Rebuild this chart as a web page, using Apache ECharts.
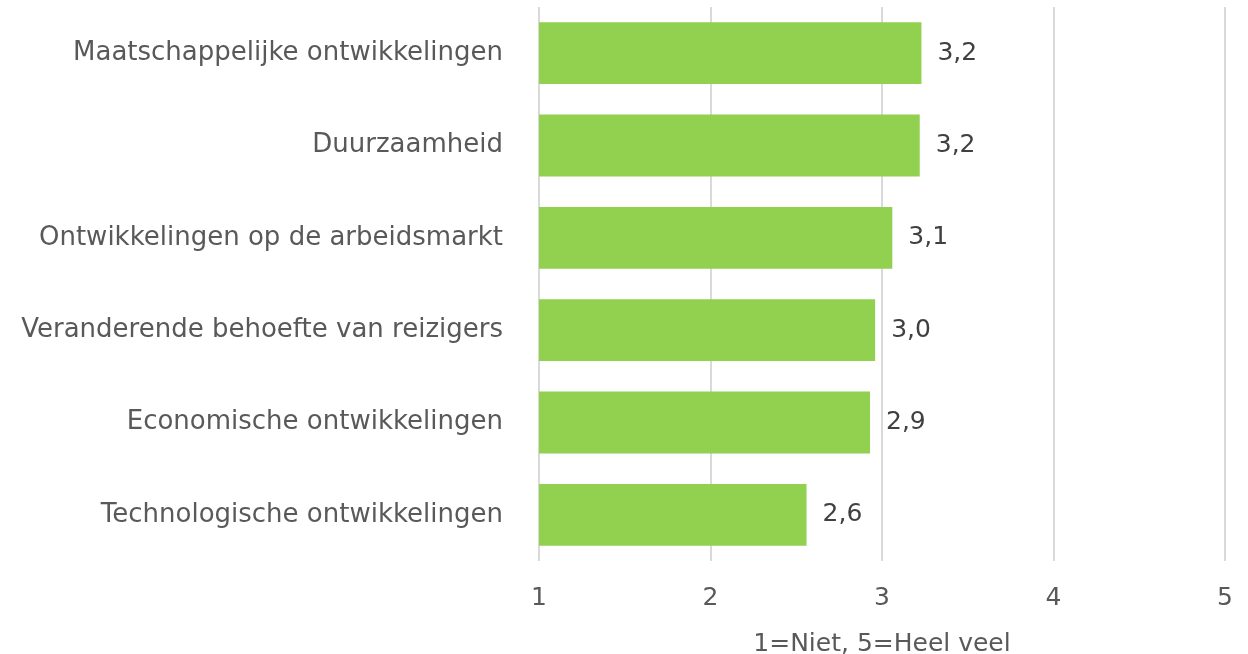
<!DOCTYPE html>
<html>
<head>
<meta charset="utf-8">
<script src="https://cdn.jsdelivr.net/npm/echarts@6/dist/echarts.min.js"></script>
<style>
  html, body { margin: 0; padding: 0; background: #fff; }
  #a { width: 1248px; height: 654px; }
</style>
</head>
<body>
<div id="a"></div>
<script>
// categorieen en scores (1=Niet, 5=Heel veel)
var categories = [
  'Maatschappelijke ontwikkelingen',
  'Duurzaamheid',
  'Ontwikkelingen op de arbeidsmarkt',
  'Veranderende behoefte van reizigers',
  'Economische ontwikkelingen',
  'Technologische ontwikkelingen'
];
var scores = [3.23, 3.22, 3.06, 2.96, 2.93, 2.56];
var tickValues = [1, 2, 3, 4, 5];

var fontName = '"DejaVu Sans", sans-serif';

var myechart = echarts.init(document.getElementById('a'));
var option = {
  animation: false,
  grid: { left: 539, right: 23, top: 7, bottom: 93, containLabel: false, outerBoundsMode: 'none' },
  xAxis: {
    type: 'value',
    min: tickValues[0],
    max: tickValues[tickValues.length - 1],
    interval: 1,
    name: '1=Niet, 5=Heel veel',
    nameLocation: 'middle',
    nameGap: 71,
    nameTextStyle: { color: '#595959', fontSize: 25, fontFamily: fontName },
    axisLine: { show: false },
    axisTick: { show: false },
    axisLabel: { color: '#595959', fontSize: 25, fontFamily: fontName, margin: 25 },
    splitLine: { show: true, lineStyle: { color: '#D9D9D9', width: 2 } }
  },
  yAxis: {
    type: 'category',
    inverse: true,
    data: categories,
    axisLine: { show: false },
    axisTick: { show: false },
    axisLabel: { color: '#595959', fontSize: 26, fontFamily: fontName, margin: 36 }
  },
  series: [
    {
      type: 'bar',
      data: scores,
      barCategoryGap: '33%',
      itemStyle: { color: '#92D050' },
      label: {
        show: true,
        position: 'right',
        distance: 16,
        color: '#404040',
        fontSize: 25,
        fontFamily: fontName,
        formatter: function (p) { return p.value.toFixed(1).replace('.', ','); }
      }
    }
  ]
};
myechart.setOption(option);
</script>
</body>
</html>
